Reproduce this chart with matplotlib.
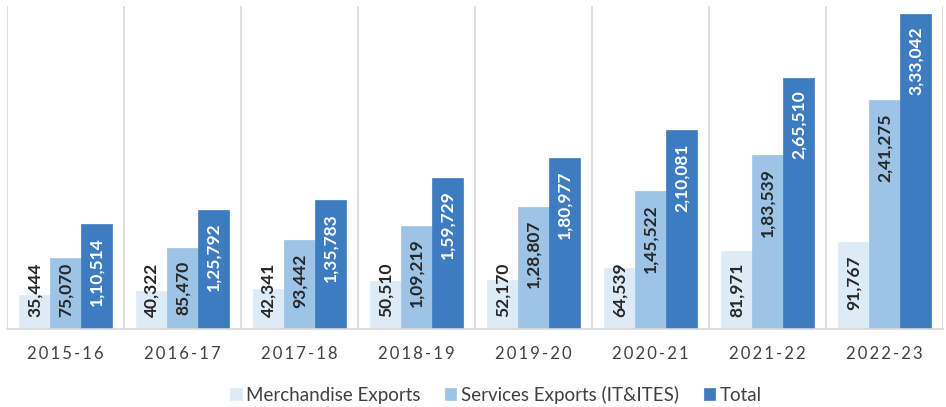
import numpy as np
import matplotlib
matplotlib.use("Agg")
from matplotlib import pyplot as plt

# Exportaciones por año (valores en crore)
years = ["2015-16", "2016-17", "2017-18", "2018-19", "2019-20", "2020-21", "2021-22", "2022-23"]
merchandise = [35444, 40322, 42341, 50510, 52170, 64539, 81971, 91767]
services = [75070, 85470, 93442, 109219, 128807, 145522, 183539, 241275]
total = [110514, 125792, 135783, 159729, 180977, 210081, 265510, 333042]

series_names = ["Merchandise Exports", "Services Exports (IT&ITES)", "Total"]
colors = ["#DDEBF7", "#9DC3E6", "#3E7CC2"]
label_colors = ["#262626", "#262626", "white"]

plt.rcParams['font.family'] = ['Lato', 'DejaVu Sans']


def indian_format(v):
    # 1,10,514 style grouping
    s = str(int(v))
    if len(s) <= 3:
        return s
    head, tail = s[:-3], s[-3:]
    parts = []
    while len(head) > 2:
        parts.insert(0, head[-2:])
        head = head[:-2]
    if head:
        parts.insert(0, head)
    return ",".join(parts) + "," + tail


fig = plt.figure(figsize=(9.46, 4.07), dpi=100)
ax = fig.add_axes([7 / 946, 78 / 407, 936 / 946, 323 / 407])

x = np.arange(len(years))
w = 0.265
data = [merchandise, services, total]

etiquetas = []
for i, vals in enumerate(data):
    pos = x + (i - 1) * w
    ax.bar(pos, vals, width=w, color=colors[i], edgecolor=colors[i], linewidth=0.5,
           label=series_names[i], zorder=2)
    for xp, v in zip(pos, vals):
        t = ax.annotate(indian_format(v), xy=(xp, v), xytext=(0, -13), textcoords='offset pixels',
                        rotation=90, ha='center', va='top', fontsize=12.5, fontweight='bold',
                        color=label_colors[i], zorder=3)
        etiquetas.append((t, xp))

ax.set_xlim(-0.5, len(years) - 0.5)
ax.set_ylim(0, 341000)

# separadores verticales entre categorías
for b in np.arange(-0.5, len(years) + 0.5, 1):
    ax.axvline(b, color='#D9D9D9', linewidth=1.2, zorder=1)

for s in ['top', 'left', 'right']:
    ax.spines[s].set_visible(False)
ax.spines['bottom'].set_color('#D9D9D9')
ax.spines['bottom'].set_linewidth(1.2)

ax.set_yticks([])
ax.set_xticks(x)
ax.set_xticklabels(["\u2009".join(y) for y in years], fontsize=12, color='#404040')
ax.tick_params(axis='x', length=0, pad=12)

# si la etiqueta no cabe, se apoya en la base de la barra
fig.canvas.draw()
renderer = fig.canvas.get_renderer()
base_px = ax.transData.transform((0, 0))[1]
for t, xp in etiquetas:
    bb = t.get_window_extent(renderer)
    if bb.y0 < base_px + 12:
        t.xy = (xp, 0)
        t.set_position((0, 12))
        t.set_va('bottom')

fig.legend(loc='center', bbox_to_anchor=(496 / 946, 12 / 407), ncol=3, frameon=False,
           fontsize=13.5, labelcolor='#404040', handlelength=0.6, handleheight=0.6,
           handletextpad=0.25, columnspacing=1.3)

fig.savefig("out.png", dpi=100)
